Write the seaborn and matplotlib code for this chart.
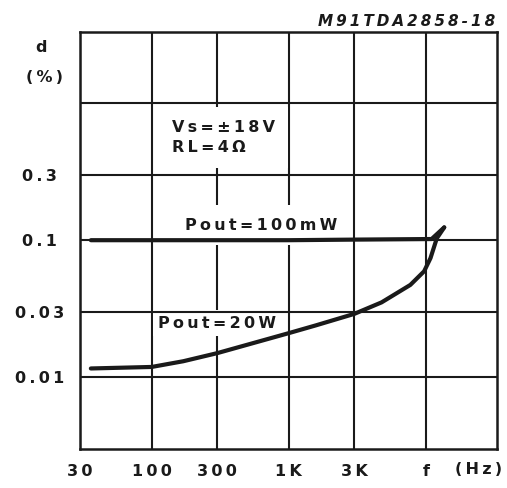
import matplotlib
matplotlib.use("Agg")
import matplotlib.pyplot as plt
import pandas as pd
import seaborn as sns

# frequency (Hz) / distortion (%)
freq_100mw = [36, 300, 1000, 3000, 11000, 13600]
thd_100mw = [0.100, 0.100, 0.100, 0.101, 0.102, 0.124]

freq_20w = [36, 100, 170, 300, 500, 1000, 1570, 3000, 4750, 7700, 9700, 10800, 12000, 13600]
thd_20w = [0.0116, 0.0119, 0.0131, 0.0150, 0.0173, 0.0210, 0.0239, 0.0290, 0.0352, 0.0472, 0.0593,
           0.074, 0.103, 0.124]

x_ticks = [30, 100, 300, 1000, 3000, 10000]
x_labels = ["30", "100", "300", "1K", "3K", "f"]
y_ticks = [0.01, 0.03, 0.1, 0.3, 1]
y_labels = ["0.01", "0.03", "0.1", "0.3", ""]

INK = "#1a1a1a"
FS = 11.5


def sp(s):
    # the datasheet lettering is widely spaced
    return "\n".join("\u2009".join(line) for line in s.split("\n"))


sns.set_theme(style="white")
plt.rcParams["font.family"] = ["DejaVu Sans"]
plt.rcParams["font.weight"] = "bold"

df = pd.concat([
    pd.DataFrame({"f": freq_100mw, "d": thd_100mw, "curve": "100mW"}),
    pd.DataFrame({"f": freq_20w, "d": thd_20w, "curve": "20W"}),
])

fig = plt.figure(figsize=(5.07, 4.88), dpi=100)
ax = fig.add_axes([80 / 507, 39 / 488, 417 / 507, 417 / 488])

sns.lineplot(data=df, x="f", y="d", units="curve", estimator=None, sort=False,
             color=INK, linewidth=3.0, ax=ax, zorder=5, legend=False)

ax.set_xscale("log")
ax.set_yscale("log")
ax.set_xlim(30, 33000)
ax.set_ylim(0.003, 3.3)

ax.set_xticks(x_ticks)
ax.set_xticklabels([sp(t) for t in x_labels])
ax.set_yticks(y_ticks)
ax.set_yticklabels([sp(t) for t in y_labels])
ax.minorticks_off()
ax.tick_params(axis="both", length=0, labelsize=FS, labelcolor=INK)
ax.tick_params(axis="x", pad=11)
ax.tick_params(axis="y", pad=29)
for lab in ax.get_xticklabels() + ax.get_yticklabels():
    lab.set_fontweight("bold")
for lab in ax.get_yticklabels():
    lab.set_horizontalalignment("center")

ax.grid(True, which="major", color=INK, linewidth=1.5)
# horizontal rules stay on top of the white label patches, vertical ones go under
ax.xaxis.set_zorder(1)
ax.yaxis.set_zorder(4)
for sp_ in ax.spines.values():
    sp_.set_color(INK)
    sp_.set_linewidth(1.8)
    sp_.set_zorder(6)
ax.set_xlabel("")
ax.set_ylabel("")

ax.text(0.221, 0.747, sp("Vs=±18V\nRL=4Ω"), transform=ax.transAxes,
        fontsize=FS, fontweight="bold", color=INK, va="center", ha="left",
        linespacing=1.45, bbox=dict(facecolor="white", edgecolor="none", boxstyle="square,pad=0.8"),
        zorder=3)
ax.text(0.252, 0.537, sp("Pout=100mW"), transform=ax.transAxes, fontsize=FS,
        fontweight="bold", color=INK, va="center", ha="left",
        bbox=dict(facecolor="white", edgecolor="none", boxstyle="square,pad=0.8"), zorder=3)
ax.text(0.188, 0.302, sp("Pout=20W"), transform=ax.transAxes, fontsize=FS,
        fontweight="bold", color=INK, va="center", ha="left",
        bbox=dict(facecolor="white", edgecolor="none", boxstyle="square,pad=0.35"), zorder=3)

fig.text(495 / 507, 1 - 21 / 488, sp("M91TDA2858-18"), ha="right", va="center",
         fontsize=11, fontweight="bold", style="italic", color=INK)
fig.text(41 / 507, 1 - 47 / 488, "d", ha="center", va="center", fontsize=FS,
         fontweight="bold", color=INK)
fig.text(44 / 507, 1 - 78 / 488, sp("(%)"), ha="center", va="center", fontsize=FS,
         fontweight="bold", color=INK)
fig.text(479 / 507, 1 - 470 / 488, sp("(Hz)"), ha="center", va="center", fontsize=FS,
         fontweight="bold", color=INK)

fig.savefig("out.png", dpi=100, facecolor="white")
